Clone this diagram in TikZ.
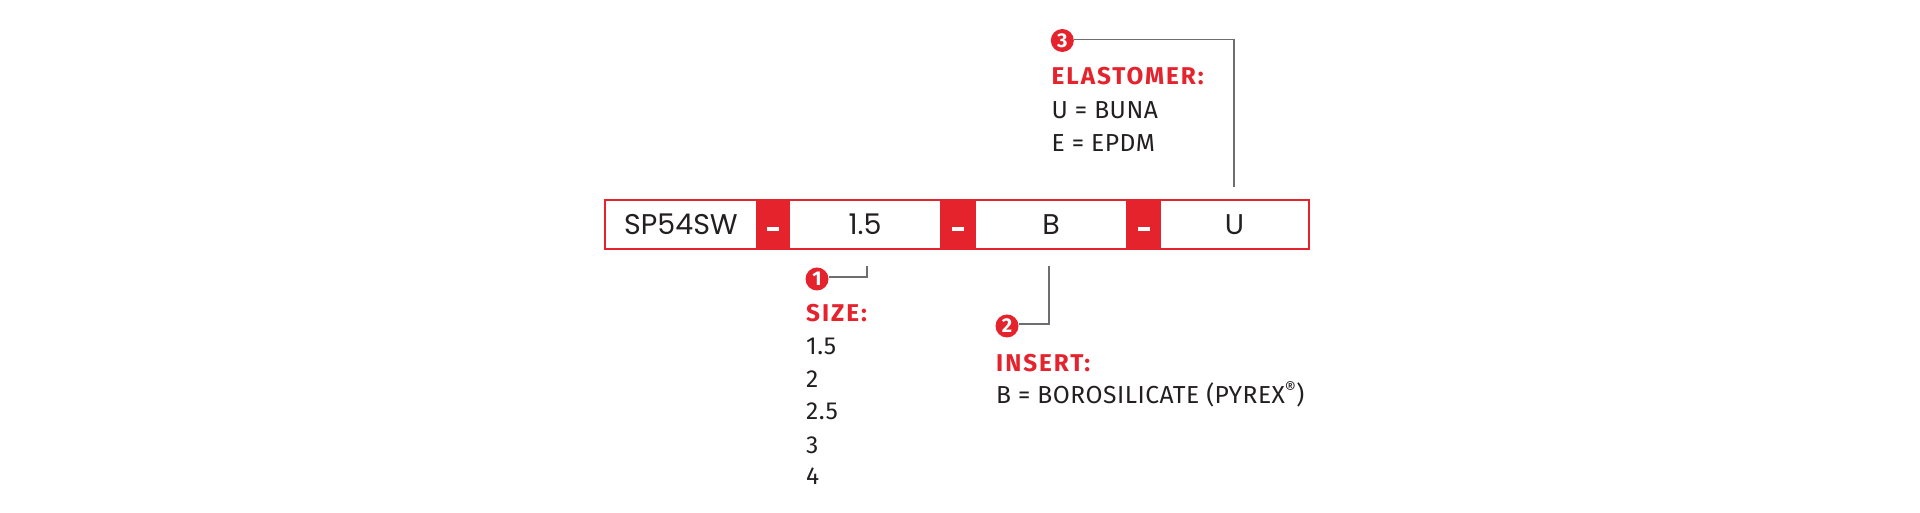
\documentclass[tikz,border=0pt]{standalone}
\usepackage{fontspec}
\setmainfont{Fira Sans}
\newfontfamily\boxfont{Poppins}
\definecolor{brandred}{HTML}{E5232D}
\definecolor{leadgray}{HTML}{6D6E71}
\definecolor{inkdark}{HTML}{231F20}
\tikzset{
  cell/.style={draw=brandred, line width=1.2pt, fill=white, minimum height=48pt, inner sep=0pt, text height=19.6pt, text depth=0pt, text=inkdark, font=\boxfont\fontsize{28.5}{32}\selectfont},
  sepcell/.style={draw=brandred, fill=brandred, minimum height=48pt, minimum width=33pt, inner sep=0pt},
  dashmark/.style={fill=white, minimum width=12pt, minimum height=4.3pt, inner sep=0pt},
  badge/.style={circle, fill=brandred, minimum size=23pt, inner sep=0pt, text=white, font=\fontsize{20}{20}\selectfont\bfseries},
  lead/.style={draw=leadgray, line width=1.4pt},
  head/.style={anchor=base west, inner sep=0pt, text=brandred, font=\fontsize{24.3}{28}\selectfont\bfseries\addfontfeatures{LetterSpace=8}},
  item/.style={anchor=base west, inner sep=0pt, text=inkdark, font=\fontsize{24.6}{28}\selectfont\addfontfeatures{LetterSpace=2}},
}
\begin{document}
\begin{tikzpicture}[x=1pt,y=1pt]
\useasboundingbox (0,0) rectangle (1920,513);
% code box
\node[cell, minimum width=152pt] (c1) at (681,288.3) {SP54SW};
\node[sepcell] (s1) at (773,288.3) {};
\node[cell, minimum width=152pt] (c2) at (865,288.3) {1.5};
\node[sepcell] (s2) at (958,288.3) {};
\node[cell, minimum width=152pt] (c3) at (1051,288.3) {B};
\node[sepcell] (s3) at (1143.5,288.3) {};
\node[cell, minimum width=149pt] (c4) at (1234.5,288.3) {U};
\node[dashmark] (d1) at ([yshift=-4.3pt]s1.center) {};
\node[dashmark] (d2) at ([yshift=-4.3pt]s2.center) {};
\node[dashmark] (d3) at ([yshift=-4.3pt]s3.center) {};
\draw[brandred, line width=1.6pt] (c1.north west) rectangle (c4.south east);
% callout 1
\node[badge] (b1) at (817,234) {1};
\coordinate (k1) at (867,236);
\coordinate (t1) at (867,247);
\draw[lead] ([yshift=2pt]b1.east) -- (k1) -- (t1);
\node[head] (h1) at (806,191.5) {SIZE:};
\node[item] (i11) at (806,158) {1.5};
\node[item] (i12) at (806,125.3) {2};
\node[item] (i13) at (806,93) {2.5};
\node[item] (i14) at (806,59.7) {3};
\node[item] (i15) at (806,28) {4};
% callout 2
\node[badge] (b2) at (1007,187) {2};
\coordinate (k2) at (1049,189);
\coordinate (t2) at (1049,247);
\draw[lead] ([yshift=2pt]b2.east) -- (k2) -- (t2);
\node[head] (h2) at (996,141.3) {INSERT:};
\node[item] (i21) at (996,109) {B = BOROSILICATE (PYREX\textsuperscript{®})};
% callout 3
\node[badge] (b3) at (1062.3,472.5) {3};
\coordinate (k3) at (1234,473.7);
\coordinate (t3) at (1234,326.3);
\draw[lead] ([yshift=1.2pt]b3.east) -- (k3) -- (t3);
\node[head] (h3) at (1051.5,428) {ELASTOMER:};
\node[item] (i31) at (1051.5,394.7) {U = BUNA};
\node[item] (i32) at (1051.5,361.3) {E = EPDM};
\end{tikzpicture}
\end{document}
